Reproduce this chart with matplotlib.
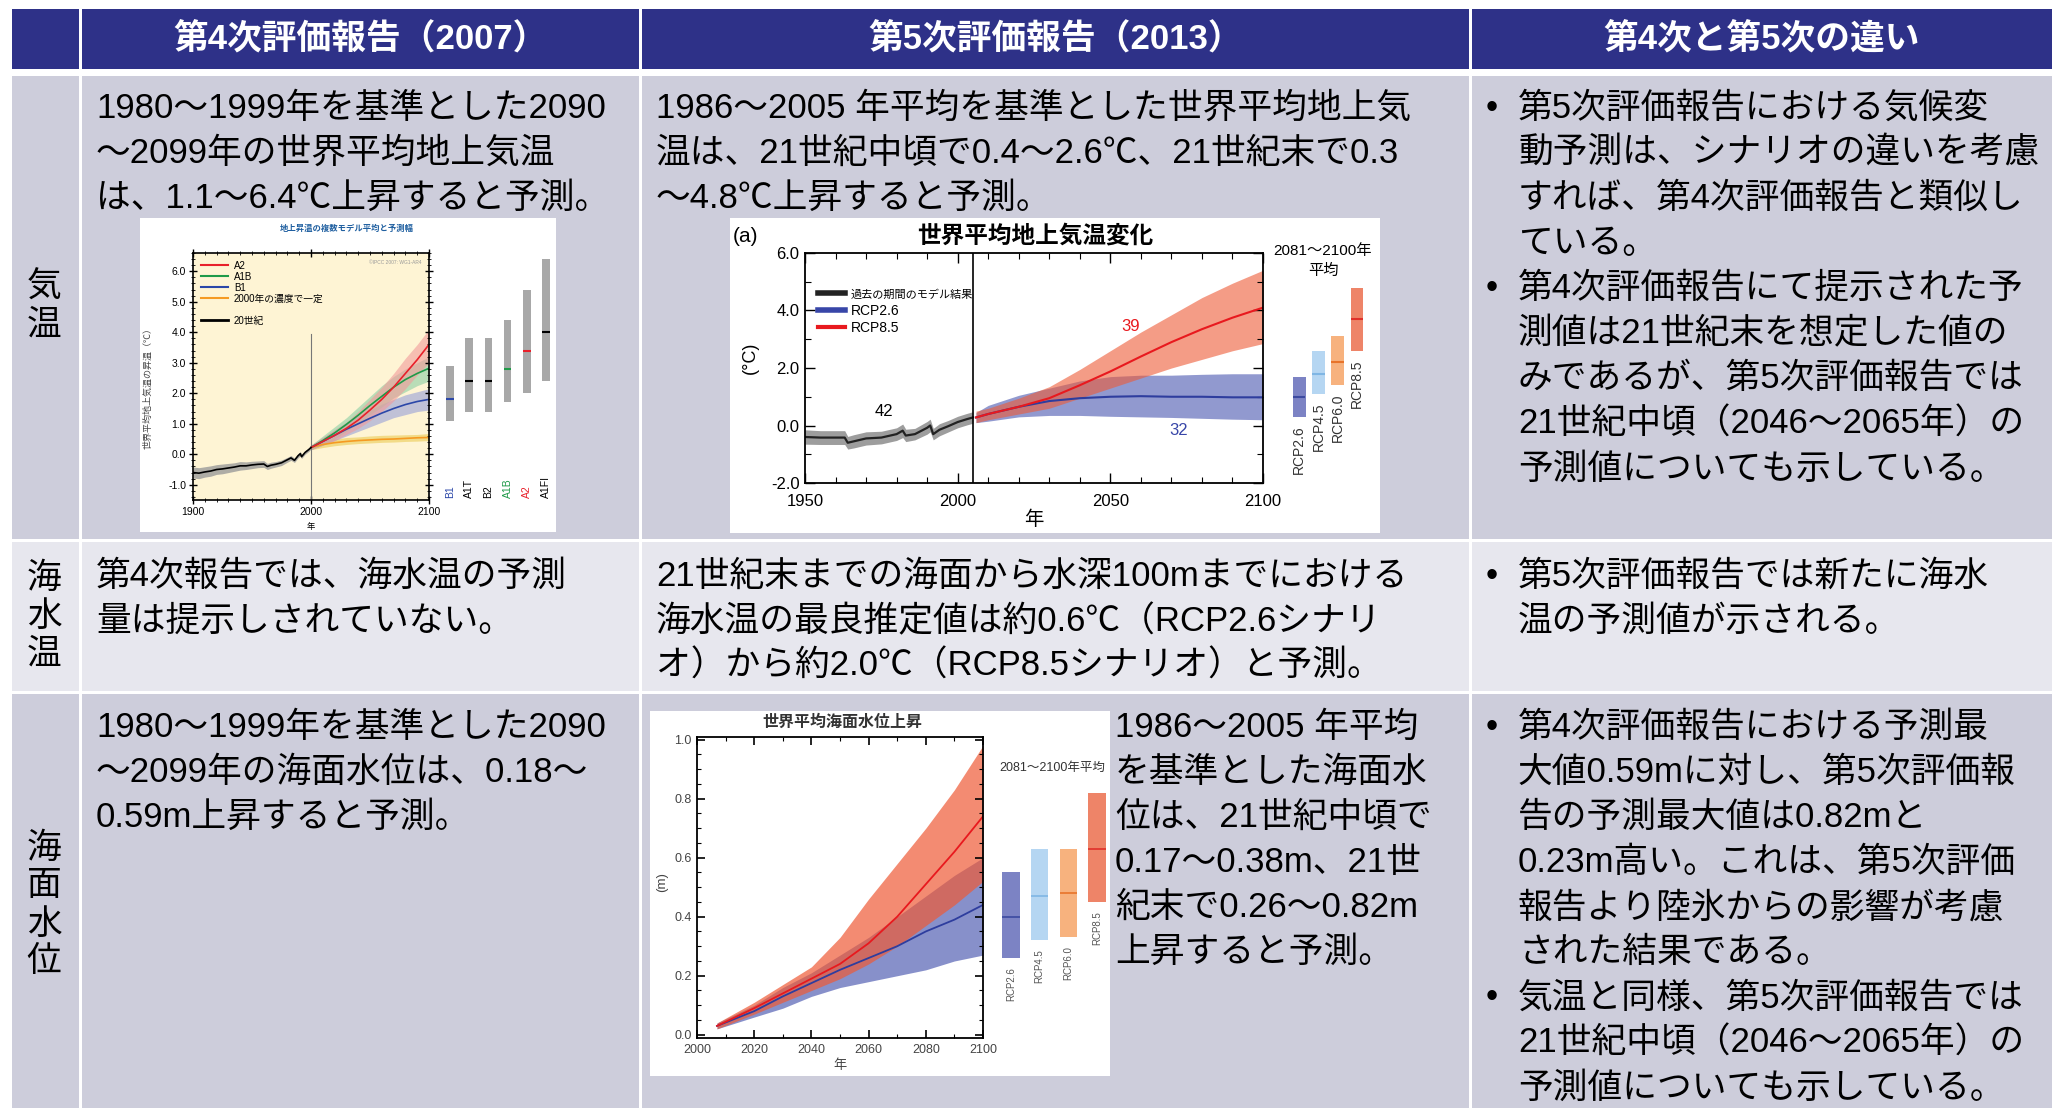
import matplotlib
matplotlib.use('Agg')
import matplotlib.pyplot as plt
from matplotlib.patches import Rectangle
from matplotlib.lines import Line2D
from matplotlib.ticker import MultipleLocator, FormatStrFormatter

plt.rcParams['font.family'] = ['Liberation Sans', 'Noto Sans CJK JP', 'DejaVu Sans']

# ---------------- table text ----------------
headers = ['', '第4次評価報告（2007）', '第5次評価報告（2013）', '第4次と第5次の違い']
row_labels = ['気温', '海水温', '海面水位']
ar4_text = [
    ['1980～1999年を基準とした2090', '～2099年の世界平均地上気温', 'は、1.1～6.4℃上昇すると予測。'],
    ['第4次報告では、海水温の予測', '量は提示しされていない。'],
    ['1980～1999年を基準とした2090', '～2099年の海面水位は、0.18～', '0.59m上昇すると予測。'],
]
ar5_text = [
    ['1986～2005 年平均を基準とした世界平均地上気', '温は、21世紀中頃で0.4～2.6℃、21世紀末で0.3',
     '～4.8℃上昇すると予測。'],
    ['21世紀末までの海面から水深100mまでにおける', '海水温の最良推定値は約0.6℃（RCP2.6シナリ',
     'オ）から約2.0℃（RCP8.5シナリオ）と予測。'],
    ['1986～2005 年平均', 'を基準とした海面水', '位は、21世紀中頃で', '0.17～0.38m、21世',
     '紀末で0.26～0.82m', '上昇すると予測。'],
]
diff_text = [
    [['第5次評価報告における気候変', '動予測は、シナリオの違いを考慮', 'すれば、第4次評価報告と類似し', 'ている。'],
     ['第4次評価報告にて提示された予', '測値は21世紀末を想定した値の', 'みであるが、第5次評価報告では',
      '21世紀中頃（2046～2065年）の', '予測値についても示している。']],
    [['第5次評価報告では新たに海水', '温の予測値が示される。']],
    [['第4次評価報告における予測最', '大値0.59mに対し、第5次評価報', '告の予測最大値は0.82mと',
      '0.23m高い。これは、第5次評価', '報告より陸氷からの影響が考慮', 'された結果である。'],
     ['気温と同様、第5次評価報告では', '21世紀中頃（2046～2065年）の', '予測値についても示している。']],
]

# ---------------- AR4 temperature chart ----------------
ar4_hist_years = [1900, 1905, 1910, 1915, 1920, 1925, 1930, 1935, 1940, 1945, 1950, 1955, 1960,
                  1963, 1966, 1970, 1975, 1980, 1983, 1986, 1989, 1991, 1992, 1995, 1998, 2000]
ar4_hist_mean = [-0.6, -0.62, -0.58, -0.55, -0.5, -0.48, -0.45, -0.42, -0.38, -0.38, -0.35, -0.33,
                 -0.32, -0.4, -0.36, -0.33, -0.28, -0.18, -0.12, -0.2, -0.05, 0.02, -0.08, 0.06, 0.15, 0.22]
ar4_hist_low = [-0.78, -0.8, -0.75, -0.72, -0.66, -0.64, -0.6, -0.56, -0.52, -0.5, -0.47, -0.44,
                -0.43, -0.5, -0.46, -0.42, -0.37, -0.26, -0.2, -0.27, -0.12, -0.05, -0.14, 0.0, 0.09, 0.17]
ar4_hist_high = [-0.42, -0.44, -0.41, -0.38, -0.34, -0.32, -0.3, -0.28, -0.24, -0.25, -0.23, -0.22,
                 -0.21, -0.3, -0.26, -0.24, -0.19, -0.1, -0.04, -0.13, 0.02, 0.09, -0.02, 0.12, 0.21, 0.27]
ar4_proj_years = [2000, 2010, 2020, 2030, 2040, 2050, 2060, 2070, 2080, 2090, 2100]
ar4_a2 = [0.22, 0.42, 0.62, 0.85, 1.12, 1.45, 1.8, 2.2, 2.65, 3.1, 3.6]
ar4_a2_low = [0.15, 0.3, 0.45, 0.65, 0.85, 1.1, 1.4, 1.75, 2.15, 2.6, 3.0]
ar4_a2_high = [0.3, 0.55, 0.8, 1.05, 1.4, 1.8, 2.2, 2.65, 3.15, 3.6, 4.1]
ar4_a1b = [0.22, 0.45, 0.7, 0.98, 1.28, 1.6, 1.9, 2.2, 2.45, 2.65, 2.82]
ar4_a1b_low = [0.15, 0.3, 0.5, 0.75, 1.0, 1.3, 1.55, 1.85, 2.05, 2.25, 2.4]
ar4_a1b_high = [0.3, 0.6, 0.9, 1.2, 1.55, 1.9, 2.25, 2.55, 2.8, 3.0, 3.2]
ar4_b1 = [0.22, 0.42, 0.62, 0.82, 1.0, 1.18, 1.35, 1.5, 1.63, 1.73, 1.8]
ar4_b1_low = [0.15, 0.3, 0.45, 0.6, 0.75, 0.9, 1.05, 1.2, 1.3, 1.4, 1.45]
ar4_b1_high = [0.3, 0.55, 0.8, 1.05, 1.25, 1.45, 1.65, 1.8, 1.95, 2.05, 2.15]
ar4_const = [0.22, 0.32, 0.38, 0.42, 0.45, 0.47, 0.49, 0.5, 0.52, 0.54, 0.55]
ar4_const_low = [0.15, 0.22, 0.28, 0.32, 0.35, 0.37, 0.39, 0.4, 0.42, 0.43, 0.45]
ar4_const_high = [0.3, 0.42, 0.5, 0.55, 0.57, 0.6, 0.62, 0.63, 0.64, 0.65, 0.68]
ar4_scen = ['B1', 'A1T', 'B2', 'A1B', 'A2', 'A1FI']
ar4_scen_low = [1.1, 1.4, 1.4, 1.7, 2.0, 2.4]
ar4_scen_high = [2.9, 3.8, 3.8, 4.4, 5.4, 6.4]
ar4_scen_best = [1.8, 2.4, 2.4, 2.8, 3.4, 4.0]

# ---------------- AR5 temperature chart ----------------
ar5_hist_years = [1950, 1955, 1960, 1963, 1964, 1966, 1970, 1975, 1980, 1982, 1983, 1986, 1990,
                  1991, 1992, 1994, 1997, 2000, 2003, 2005]
ar5_hist_mean = [-0.4, -0.42, -0.42, -0.42, -0.6, -0.55, -0.45, -0.42, -0.3, -0.18, -0.35, -0.3,
                 -0.08, 0.0, -0.3, -0.15, -0.02, 0.12, 0.22, 0.28]
ar5_hist_low = [-0.65, -0.66, -0.66, -0.66, -0.82, -0.78, -0.68, -0.64, -0.52, -0.42, -0.56, -0.5,
                -0.3, -0.22, -0.5, -0.36, -0.22, -0.08, 0.02, 0.08]
ar5_hist_high = [-0.15, -0.18, -0.18, -0.18, -0.38, -0.32, -0.22, -0.2, -0.08, 0.05, -0.13, -0.1,
                 0.14, 0.22, -0.1, 0.06, 0.18, 0.32, 0.42, 0.48]
ar5_years = [2006, 2010, 2020, 2030, 2040, 2050, 2060, 2070, 2080, 2090, 2100]
rcp85_mean = [0.28, 0.4, 0.65, 0.95, 1.4, 1.88, 2.4, 2.9, 3.35, 3.75, 4.1]
rcp85_low = [0.1, 0.2, 0.4, 0.6, 0.95, 1.3, 1.65, 2.0, 2.3, 2.6, 2.85]
rcp85_high = [0.5, 0.6, 0.95, 1.35, 1.95, 2.6, 3.25, 3.85, 4.45, 4.95, 5.4]
rcp26_mean = [0.28, 0.4, 0.65, 0.85, 0.95, 1.0, 1.02, 1.0, 1.0, 0.98, 0.98]
rcp26_low = [0.1, 0.15, 0.3, 0.35, 0.35, 0.32, 0.3, 0.28, 0.25, 0.22, 0.2]
rcp26_high = [0.45, 0.7, 1.05, 1.3, 1.55, 1.7, 1.75, 1.75, 1.78, 1.8, 1.8]
rcp_names = ['RCP2.6', 'RCP4.5', 'RCP6.0', 'RCP8.5']
temp_bar_low = [0.3, 1.1, 1.4, 2.6]
temp_bar_high = [1.7, 2.6, 3.1, 4.8]
temp_bar_mean = [1.0, 1.8, 2.2, 3.7]

# ---------------- AR5 sea level chart ----------------
sl_years = [2007, 2020, 2030, 2040, 2050, 2060, 2070, 2080, 2090, 2100]
sl85_mean = [0.03, 0.09, 0.14, 0.19, 0.24, 0.31, 0.40, 0.51, 0.62, 0.74]
sl85_low = [0.02, 0.07, 0.11, 0.15, 0.19, 0.24, 0.30, 0.37, 0.44, 0.52]
sl85_high = [0.04, 0.11, 0.17, 0.23, 0.33, 0.46, 0.58, 0.70, 0.83, 0.98]
sl26_mean = [0.03, 0.08, 0.13, 0.175, 0.22, 0.26, 0.30, 0.35, 0.39, 0.44]
sl26_low = [0.02, 0.06, 0.09, 0.13, 0.16, 0.18, 0.20, 0.22, 0.25, 0.27]
sl26_high = [0.04, 0.10, 0.16, 0.21, 0.27, 0.33, 0.40, 0.47, 0.54, 0.60]
sl_bar_low = [0.26, 0.32, 0.33, 0.45]
sl_bar_high = [0.55, 0.63, 0.63, 0.82]
sl_bar_mean = [0.40, 0.47, 0.48, 0.63]

# ---------------- layout ----------------
W, H = 2052, 1108
NAVY = '#2E3188'
ROW_BG = ['#CDCDDB', '#E7E7EE', '#CDCDDB']
col_edges = [(12, 79), (82, 639), (642, 1469), (1472, 2052)]
row_edges = [(9, 69), (76, 539), (542, 691), (694, 1108)]
row_label_center = [306, 616, 905]
first_line = [105, 573, 724]
LINE = 45.1
FS = 25
base_off = 0.37 * FS * 100 / 72

fig = plt.figure(figsize=(W / 100, H / 100), dpi=100)


def px_axes(x0, y0, x1, y1):
    return fig.add_axes([x0 / W, 1 - y1 / H, (x1 - x0) / W, (y1 - y0) / H])


tab = px_axes(0, 0, W, H)
tab.set_xlim(0, W)
tab.set_ylim(H, 0)
tab.axis('off')

# header row
for (x0, x1), txt in zip(col_edges, headers):
    y0, y1 = row_edges[0]
    tab.add_patch(Rectangle((x0, y0), x1 - x0, y1 - y0, color=NAVY, lw=0))
    if txt:
        tab.text((x0 + x1) / 2, (y0 + y1) / 2 + 1, txt, color='white', fontsize=25,
                 fontweight='bold', ha='center', va='center')

# body cells
for r in range(3):
    y0, y1 = row_edges[r + 1]
    for x0, x1 in col_edges:
        tab.add_patch(Rectangle((x0, y0), x1 - x0, y1 - y0, color=ROW_BG[r], lw=0))
    label = row_labels[r]
    n = len(label)
    for k, ch in enumerate(label):
        yc = row_label_center[r] + (k - (n - 1) / 2) * 38
        tab.text(44, yc, ch, fontsize=25, ha='center', va='center')
    for i, line in enumerate(ar4_text[r]):
        tab.text(96, first_line[r] + i * LINE + base_off, line, fontsize=FS, va='baseline')
    x_ar5 = 1115 if r == 2 else 656
    for i, line in enumerate(ar5_text[r]):
        tab.text(x_ar5, first_line[r] + i * LINE + base_off, line, fontsize=FS, va='baseline')
    i = 0
    for bullet in diff_text[r]:
        for j, line in enumerate(bullet):
            yb = first_line[r] + i * LINE + base_off
            if j == 0:
                tab.text(1492, yb, '•', fontsize=FS, va='baseline', ha='center')
            tab.text(1518, yb, line, fontsize=FS, va='baseline')
            i += 1

# white picture frames
for (x0, y0, x1, y1) in [(140, 218, 556, 532), (730, 218, 1380, 533), (650, 711, 1110, 1076)]:
    tab.add_patch(Rectangle((x0, y0), x1 - x0, y1 - y0, color='white', lw=0))

# ---------------- chart 1 : AR4 ----------------
RED4, GRN4, BLU4, ORG4 = '#E8202A', '#1E9A48', '#2B47A8', '#F59A22'
ax1 = px_axes(193, 253, 429, 500)
ax1.set_facecolor('#FEF4D4')
ax1.fill_between(ar4_hist_years, ar4_hist_low, ar4_hist_high, color='#9A9A9A', alpha=0.8, lw=0)
ax1.fill_between(ar4_proj_years, ar4_const_low, ar4_const_high, color='#EBCB55', alpha=0.6, lw=0)
ax1.fill_between(ar4_proj_years, ar4_b1_low, ar4_b1_high, color='#98A0D8', alpha=0.6, lw=0)
ax1.fill_between(ar4_proj_years, ar4_a1b_low, ar4_a1b_high, color='#8CCFA4', alpha=0.6, lw=0)
ax1.fill_between(ar4_proj_years, ar4_a2_low, ar4_a2_high, color='#F29A9A', alpha=0.6, lw=0)
ax1.plot([2000, 2000], [-1.5, 3.95], color='#777777', lw=0.8)
ax1.plot(ar4_proj_years, ar4_const, color=ORG4, lw=1.2)
ax1.plot(ar4_proj_years, ar4_b1, color=BLU4, lw=1.2)
ax1.plot(ar4_proj_years, ar4_a1b, color=GRN4, lw=1.2)
ax1.plot(ar4_proj_years, ar4_a2, color=RED4, lw=1.2)
ax1.plot(ar4_hist_years, ar4_hist_mean, color='black', lw=1.2)
ax1.set_xlim(1900, 2100)
ax1.set_ylim(-1.5, 6.6)
ax1.xaxis.set_major_locator(MultipleLocator(100))
ax1.xaxis.set_minor_locator(MultipleLocator(10))
ax1.yaxis.set_major_locator(MultipleLocator(1))
ax1.yaxis.set_minor_locator(MultipleLocator(0.2))
ax1.yaxis.set_major_formatter(FormatStrFormatter('%.1f'))
ax1.tick_params(which='both', direction='inout', top=True, right=True, labelsize=7.5, pad=2)
ax1.tick_params(which='major', length=6, width=1)
ax1.tick_params(which='minor', length=3, width=0.6)
for s in ax1.spines.values():
    s.set_linewidth(1.2)
handles = [Line2D([], [], color=RED4, lw=1.5), Line2D([], [], color=GRN4, lw=1.5),
           Line2D([], [], color=BLU4, lw=1.5), Line2D([], [], color=ORG4, lw=1.5),
           Line2D([], [], color='none'), Line2D([], [], color='black', lw=2)]
ax1.legend(handles, ['A2', 'A1B', 'B1', '2000年の濃度で一定', '', '20世紀'], loc='upper left',
           frameon=False, fontsize=7, handlelength=2.8, labelspacing=0.1, borderaxespad=0.4,
           handletextpad=0.6)
ax1.text(0.97, 0.97, '©IPCC 2007: WG1-AR4', transform=ax1.transAxes, ha='right', va='top',
         fontsize=3.5, color='#999999')
tab.text(347, 229, '地上昇温の複数モデル平均と予測幅', fontsize=6, color='#1F5FA0',
         fontweight='bold', ha='center', va='center')
tab.text(148, 386, '世界平均地上気温の昇温（℃）', fontsize=6.5, rotation=90, ha='center',
         va='center', color='#444444')
tab.text(311, 527, '年', fontsize=6, ha='center', va='center')

ax1b = px_axes(440, 253, 556, 500)
ax1b.axis('off')
ax1b.set_ylim(-1.5, 6.6)
ax1b.set_xlim(-0.52, 5.52)
scen_colors = [BLU4, 'black', 'black', GRN4, RED4, 'black']
xs = list(range(len(ar4_scen)))
ax1b.bar(xs, [h - l for h, l in zip(ar4_scen_high, ar4_scen_low)], bottom=ar4_scen_low,
         width=0.4, color='#A8A8A8', lw=0)
for x, b, c, name in zip(xs, ar4_scen_best, scen_colors, ar4_scen):
    ax1b.plot([x - 0.2, x + 0.2], [b, b], color=c, lw=1.5, solid_capstyle='butt')
    ax1b.text(x, -1.45, name, rotation=90, ha='center', va='bottom', fontsize=7.5, color=c)

# ---------------- chart 2 : AR5 temperature ----------------
BAR_FILL = ['#7C83C4', '#B5D6F2', '#F7B27E', '#EE8468']
BAR_LINE = ['#3C4AA0', '#7FB6E4', '#E8742A', '#E0302A']
ax2 = px_axes(805, 253, 1263, 483)
ax2.fill_between(ar5_hist_years, ar5_hist_low, ar5_hist_high, color='#8C8C8C', alpha=0.85, lw=0)
ax2.fill_between(ar5_years, rcp26_low, rcp26_high, color='#3846A8', alpha=0.55, lw=0)
ax2.fill_between(ar5_years, rcp85_low, rcp85_high, color='#EE5A36', alpha=0.6, lw=0)
ax2.plot(ar5_hist_years, ar5_hist_mean, color='#222222', lw=1.6)
ax2.plot(ar5_years, rcp26_mean, color='#2E3D9E', lw=1.5)
ax2.plot(ar5_years, rcp85_mean, color='#E8191E', lw=1.5)
ax2.axvline(2005, color='black', lw=1.2)
ax2.set_xlim(1950, 2100)
ax2.set_ylim(-2, 6)
ax2.xaxis.set_major_locator(MultipleLocator(50))
ax2.xaxis.set_minor_locator(MultipleLocator(10))
ax2.yaxis.set_major_locator(MultipleLocator(2))
ax2.yaxis.set_minor_locator(MultipleLocator(1))
ax2.yaxis.set_major_formatter(FormatStrFormatter('%.1f'))
ax2.tick_params(which='both', direction='in', top=True, right=True, labelsize=12, pad=4)
ax2.tick_params(axis='x', pad=8)
ax2.tick_params(which='major', length=7, width=1)
ax2.tick_params(which='minor', length=4, width=0.8)
for s in ax2.spines.values():
    s.set_linewidth(1.3)
leg2 = ax2.legend([Line2D([], [], color='#222222', lw=4), Line2D([], [], color='#3846A8', lw=4),
                   Line2D([], [], color='#E8191E', lw=3)],
                  ['過去の期間のモデル結果', 'RCP2.6', 'RCP8.5'], loc='upper left',
                  bbox_to_anchor=(0.0, 0.9), frameon=False, fontsize=10, handlelength=2.0,
                  labelspacing=0.25, handletextpad=0.4)
leg2.get_texts()[0].set_fontsize(8)
ax2.text(1976, 0.5, '42', fontsize=12, ha='center', va='center')
ax2.text(2056.5, 3.46, '39', fontsize=12, ha='center', va='center', color='#E8191E')
ax2.text(2072.5, -0.19, '32', fontsize=12, ha='center', va='center', color='#3846A8')
tab.text(733, 236, '(a)', fontsize=15, ha='left', va='center')
tab.text(1035, 236, '世界平均地上気温変化', fontsize=17, fontweight='bold', ha='center', va='center')
tab.text(750, 358, '(°C)', fontsize=13, rotation=90, ha='center', va='center')
tab.text(1034, 520, '年', fontsize=14, ha='center', va='center')
tab.text(1323, 251, '2081～2100年', fontsize=11, ha='center', va='center')
tab.text(1323, 271, '平均', fontsize=11, ha='center', va='center')

ax2b = px_axes(1285, 253, 1380, 483)
ax2b.axis('off')
ax2b.set_ylim(-2, 6)
ax2b.set_xlim(-0.73, 4.19)
xs4 = list(range(len(rcp_names)))
ax2b.bar(xs4, [h - l for h, l in zip(temp_bar_high, temp_bar_low)], bottom=temp_bar_low,
         width=0.67, color=BAR_FILL, lw=0)
for x, m, lo, c, name in zip(xs4, temp_bar_mean, temp_bar_low, BAR_LINE, rcp_names):
    ax2b.plot([x - 0.33, x + 0.33], [m, m], color=c, lw=1.5, solid_capstyle='butt')
    ax2b.text(x, lo - 0.3, name, rotation=90, ha='center', va='top', fontsize=10, color='#333333')

# ---------------- chart 3 : AR5 sea level ----------------
ax3 = px_axes(697, 737, 983, 1038)
ax3.fill_between(sl_years, sl26_low, sl26_high, color='#3846A8', alpha=0.6, lw=0)
ax3.fill_between(sl_years, sl85_low, sl85_high, color='#EE5A36', alpha=0.7, lw=0)
ax3.plot(sl_years, sl26_mean, color='#2E3D9E', lw=1.3)
ax3.plot(sl_years, sl85_mean, color='#E8191E', lw=1.3)
ax3.set_xlim(2000, 2100)
ax3.set_ylim(-0.011, 1.009)
ax3.xaxis.set_major_locator(MultipleLocator(20))
ax3.xaxis.set_minor_locator(MultipleLocator(10))
ax3.yaxis.set_major_locator(MultipleLocator(0.2))
ax3.yaxis.set_minor_locator(MultipleLocator(0.05))
ax3.yaxis.set_major_formatter(FormatStrFormatter('%.1f'))
ax3.tick_params(which='both', direction='in', top=True, right=True, labelsize=9, pad=4,
                labelcolor='#444444')
ax3.tick_params(which='major', length=6, width=1.2)
ax3.tick_params(which='minor', length=3, width=0.8)
for s in ax3.spines.values():
    s.set_linewidth(1.3)
tab.text(842, 722, '世界平均海面水位上昇', fontsize=11.5, fontweight='bold', ha='center', va='center',
         color='#333333')
tab.text(662, 882, '(m)', fontsize=9.5, rotation=90, ha='center', va='center', color='#444444')
tab.text(840, 1066, '年', fontsize=9.5, ha='center', va='center', color='#444444')
tab.text(1052, 768, '2081～2100年平均', fontsize=9, ha='center', va='center', color='#333333')

ax3b = px_axes(990, 737, 1110, 1038)
ax3b.axis('off')
ax3b.set_ylim(-0.011, 1.009)
ax3b.set_xlim(-0.73, 3.45)
ax3b.bar(xs4, [h - l for h, l in zip(sl_bar_high, sl_bar_low)], bottom=sl_bar_low,
         width=0.6, color=BAR_FILL, lw=0)
for x, m, lo, c, name in zip(xs4, sl_bar_mean, sl_bar_low, BAR_LINE, rcp_names):
    ax3b.plot([x - 0.3, x + 0.3], [m, m], color=c, lw=1.2, solid_capstyle='butt')
    ax3b.text(x, lo - 0.03, name, rotation=90, ha='center', va='top', fontsize=7, color='#555555')

fig.savefig('out.png', dpi=100, facecolor='white')
